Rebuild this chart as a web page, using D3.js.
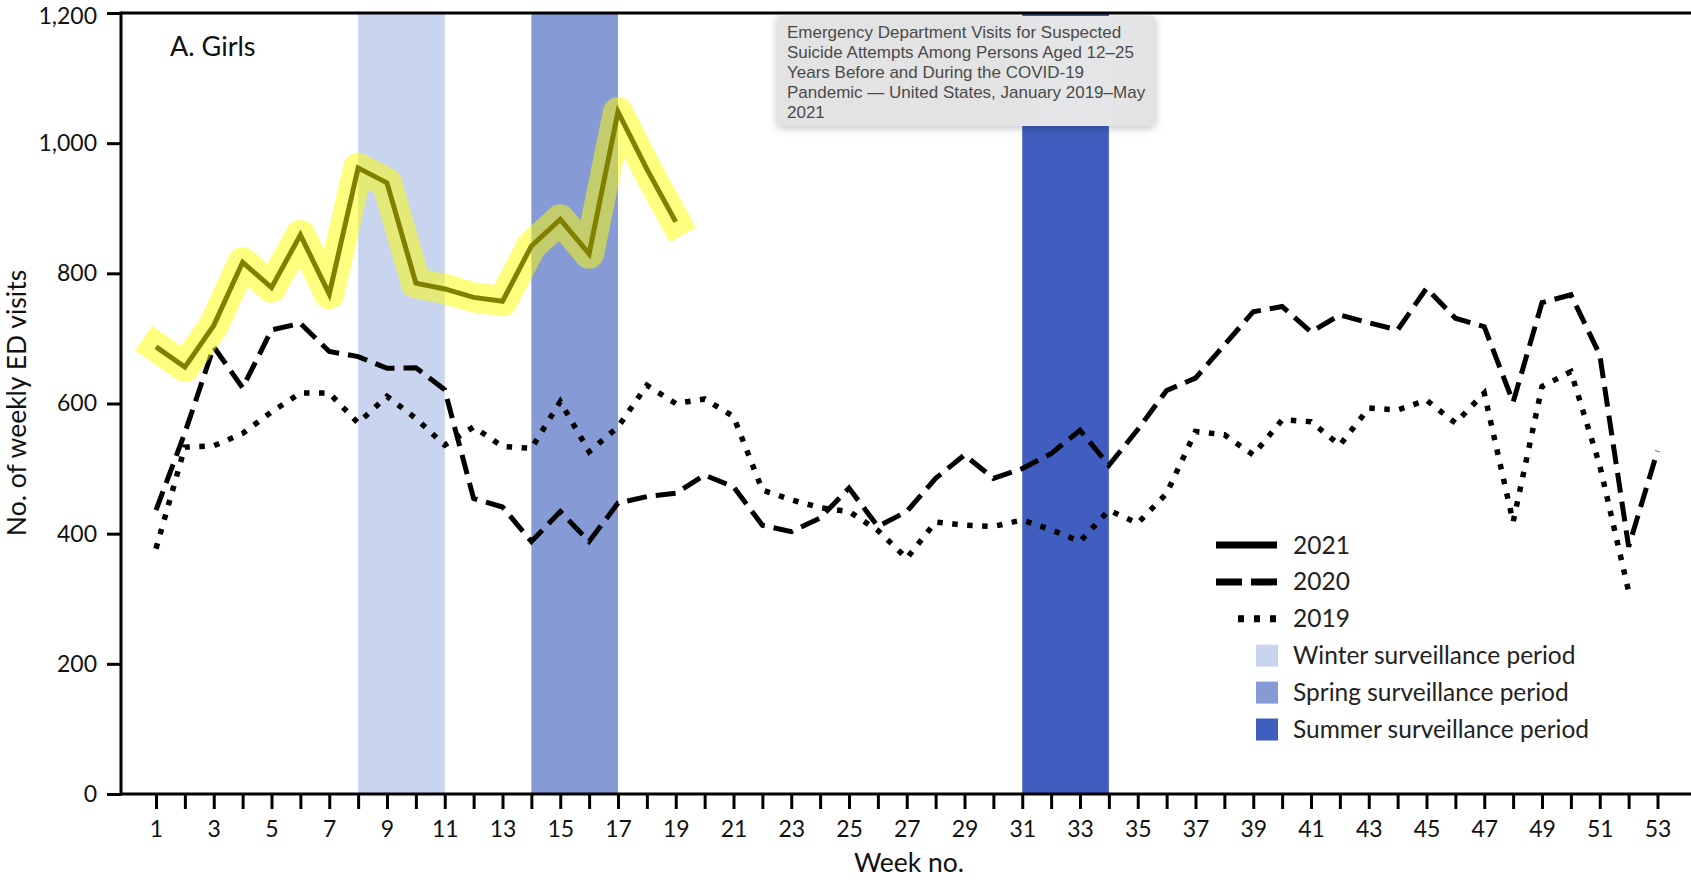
<!DOCTYPE html>
<html>
<head>
<meta charset="utf-8">
<script src="https://cdn.jsdelivr.net/npm/d3@7"></script>
<style>
  body { margin: 0; background: #fff; }
  svg { display: block; }
  .tick text { font-family: Lato, "Open Sans", sans-serif; font-size: 23px; fill: #111; }
</style>
</head>
<body>
<svg id="chart"></svg>
<script>
// weekly ED visits, girls 12-25
var weeks = d3.range(1, 54)
var visits2021 = [687, 656, 720, 817, 778, 859, 768, 962, 939, 785, 776, 763, 757, 842, 883, 830, 1048, 960, 879]
var visits2020 = [436, 555, 687, 624, 713, 723, 680, 672, 654, 655, 621, 454, 441, 388, 434, 388, 447, 457, 462, 490,
                  472, 413, 403, 424, 470, 411, 434, 485, 521, 485, 500, 523, 559, 505, 560, 620, 639, 690, 741, 749,
                  710, 736, 724, 713, 777, 731, 718, 602, 755, 767, 675, 380, 527]
var visits2019 = [377, 533, 535, 554, 587, 616, 616, 570, 611, 577, 536, 564, 534, 531, 603, 526, 564, 628, 600, 607,
                  580, 467, 452, 440, 434, 405, 362, 418, 413, 411, 421, 406, 388, 436, 416, 462, 557, 552, 521, 575,
                  572, 536, 593, 590, 605, 570, 616, 418, 626, 649, 505, 311]

var yTicks = [0, 200, 400, 600, 800, 1000, 1200]
var periodNames = ["Winter surveillance period", "Spring surveillance period", "Summer surveillance period"]
var periodStart = [8, 14, 31]
var periodEnd = [11, 17, 34]

var seriesNames = ["2021", "2020", "2019"]
var noteLines = ["Emergency Department Visits for Suspected",
                 "Suicide Attempts Among Persons Aged 12\u201325",
                 "Years Before and During the COVID-19",
                 "Pandemic \u2014 United States, January 2019\u2013May",
                 "2021"]

// styles
var periodColors = ["#c9d4ee", "#869bd6", "#3f5ebf"]
var dashes = [null, "20,9", "5.5,9.5"]
var font = "Lato, 'Open Sans', sans-serif"

var width = 1691, height = 880
var plot = {left: 121, right: 1691, top: 13, bottom: 794}

var svg = d3.select("#chart")
  .attr("width", width)
  .attr("height", height)

var x = d3.scaleLinear().domain([1, 53]).range([156, 1657.5])
var y = d3.scaleLinear().domain([0, 1200]).range([plot.bottom, plot.top])

// surveillance period bands
svg.append("g")
  .selectAll("rect")
  .data(periodNames)
  .enter()
  .append("rect")
  .attr("x", function(d, i) { return x(periodStart[i]) })
  .attr("width", function(d, i) { return x(periodEnd[i]) - x(periodStart[i]) })
  .attr("y", plot.top)
  .attr("height", plot.bottom - plot.top)
  .attr("fill", function(d, i) { return periodColors[i] })

// axes
var yAxis = svg.append("g")
  .attr("transform", "translate(" + plot.left + ",0)")
  .call(d3.axisLeft(y).tickValues(yTicks).tickFormat(d3.format(",")).tickSize(14).tickSizeOuter(0).tickPadding(10))
yAxis.select(".domain").remove()
yAxis.selectAll(".tick line").attr("stroke", "#000").attr("stroke-width", 3)
// keep the top label inside the page
yAxis.selectAll(".tick text").filter(function(d) { return d == 1200 }).attr("dy", "0.45em")

var xAxis = svg.append("g")
  .attr("transform", "translate(0," + plot.bottom + ")")
  .call(d3.axisBottom(x).tickValues(weeks).tickFormat(function(d) { return d % 2 ? d : "" })
    .tickSize(15).tickSizeOuter(0).tickPadding(12))
xAxis.select(".domain").remove()
xAxis.selectAll(".tick line").attr("stroke", "#000").attr("stroke-width", 3)

// frame lines: left, top, bottom
svg.append("line").attr("x1", plot.left).attr("x2", plot.left)
  .attr("y1", plot.top - 1.5).attr("y2", plot.bottom + 1.5)
  .attr("stroke", "#000").attr("stroke-width", 3)
svg.append("line").attr("x1", plot.left).attr("x2", plot.right)
  .attr("y1", plot.top).attr("y2", plot.top)
  .attr("stroke", "#000").attr("stroke-width", 3)
svg.append("line").attr("x1", plot.left).attr("x2", plot.right)
  .attr("y1", plot.bottom).attr("y2", plot.bottom)
  .attr("stroke", "#000").attr("stroke-width", 3)

// lines
var line = d3.line()
  .x(function(d, i) { return x(weeks[i]) })
  .y(function(d) { return y(d) })

var allSeries = [visits2021, visits2020, visits2019]
svg.append("g")
  .selectAll("path")
  .data(allSeries)
  .enter()
  .append("path")
  .attr("d", line)
  .attr("fill", "none")
  .attr("stroke", "#000")
  .attr("stroke-width", function(d, i) { return i == 2 ? 5.5 : 5 })
  .attr("stroke-linejoin", "miter")
  .attr("stroke-dasharray", function(d, i) { return dashes[i] })

// the highlighter mark over 2021
svg.append("path")
  .datum(visits2021)
  .attr("d", line)
  .attr("fill", "none")
  .attr("stroke", "#ffff00")
  .attr("stroke-opacity", 0.5)
  .attr("stroke-width", 30)
  .attr("stroke-linecap", "square")
  .attr("stroke-linejoin", "round")

// panel label and axis titles
svg.append("text")
  .attr("x", 170).attr("y", 56)
  .style("font-family", font).style("font-size", "27px").attr("fill", "#111")
  .text("A. Girls")

svg.append("text")
  .attr("transform", "translate(26,403) rotate(-90)")
  .attr("text-anchor", "middle")
  .style("font-family", font).style("font-size", "26.5px").attr("fill", "#111")
  .text("No. of weekly ED visits")

svg.append("text")
  .attr("x", 909).attr("y", 872)
  .attr("text-anchor", "middle")
  .style("font-family", font).style("font-size", "26.5px").attr("fill", "#111")
  .text("Week no.")

// legend
var legend = svg.append("g").attr("transform", "translate(1216,545)")
var rowH = 36.9
legend.selectAll(".lk")
  .data(seriesNames)
  .enter()
  .append("line")
  .attr("x1", function(d, i) { return i == 2 ? 22 : 0 })
  .attr("x2", 61)
  .attr("y1", function(d, i) { return i * rowH })
  .attr("y2", function(d, i) { return i * rowH })
  .attr("stroke", "#000")
  .attr("stroke-width", 7)
  .attr("stroke-dasharray", function(d, i) { return i == 1 ? "26,9" : i == 2 ? "6,10" : null })

legend.selectAll(".pk")
  .data(periodNames)
  .enter()
  .append("rect")
  .attr("x", 40).attr("width", 22)
  .attr("y", function(d, i) { return (i + 3) * rowH - 11 })
  .attr("height", 22)
  .attr("fill", function(d, i) { return periodColors[i] })

legend.selectAll(".lt")
  .data(seriesNames.concat(periodNames))
  .enter()
  .append("text")
  .attr("x", 77)
  .attr("y", function(d, i) { return i * rowH })
  .attr("dy", "0.35em")
  .style("font-family", font).style("font-size", "24.5px").attr("fill", "#222")
  .text(function(d) { return d })

// note box
var defs = svg.append("defs")
var f = defs.append("filter").attr("id", "shadow").attr("x", "-10%").attr("y", "-20%").attr("width", "120%").attr("height", "150%")
f.append("feDropShadow").attr("dx", 0).attr("dy", 2).attr("stdDeviation", 4).attr("flood-color", "#000").attr("flood-opacity", 0.25)
var grad = defs.append("linearGradient").attr("id", "boxfill")
grad.append("stop").attr("offset", "0%").attr("stop-color", "#e3e3e3")
grad.append("stop").attr("offset", "60%").attr("stop-color", "#e3e3e3")
grad.append("stop").attr("offset", "80%").attr("stop-color", "#e4e6e8")
grad.append("stop").attr("offset", "100%").attr("stop-color", "#e3e3e3")

var note = svg.append("g").attr("transform", "translate(777,16)")
note.append("rect")
  .attr("width", 378).attr("height", 110).attr("rx", 4)
  .attr("fill", "url(#boxfill)")
  .attr("filter", "url(#shadow)")
note.selectAll("text")
  .data(noteLines)
  .enter()
  .append("text")
  .attr("x", 10)
  .attr("y", function(d, i) { return 16 + i * 20 })
  .attr("dy", "0.35em")
  .style("font-family", "'Liberation Sans', Arial, sans-serif").style("font-size", "17px")
  .attr("fill", "#4a4a4a")
  .text(function(d) { return d })
</script>
</body>
</html>
